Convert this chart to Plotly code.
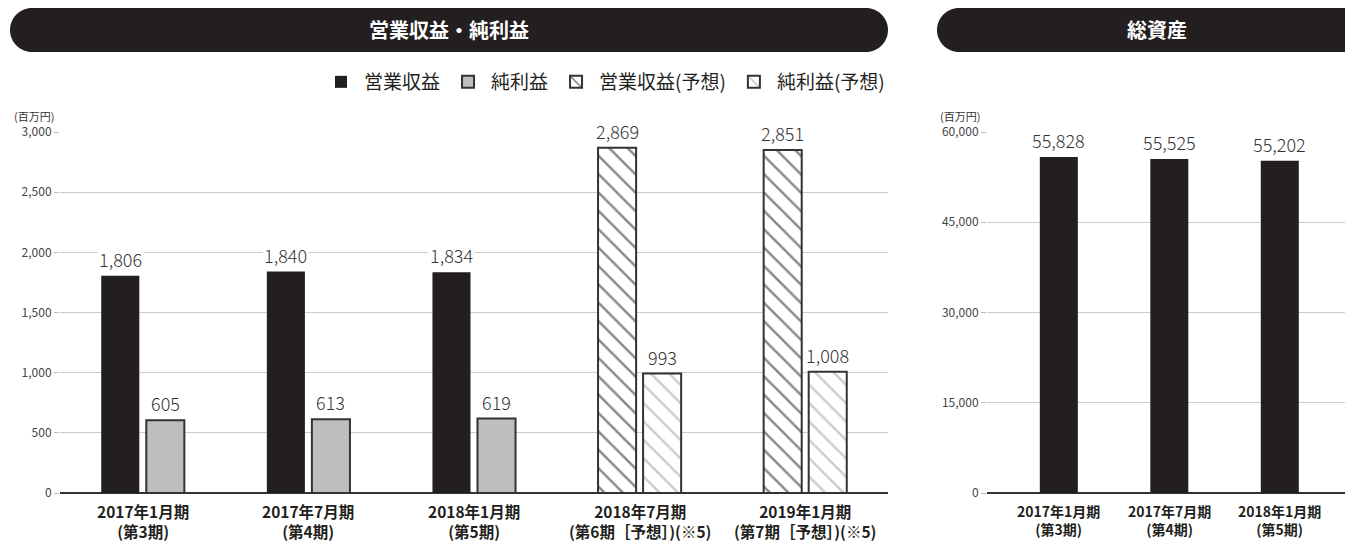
import plotly.graph_objects as go

# ---------------- data ----------------
periods_left = ["2017年1月期", "2017年7月期", "2018年1月期", "2018年7月期", "2019年1月期"]
terms_left = ["(第3期)", "(第4期)", "(第5期)", "(第6期［予想］)(※5)", "(第7期［予想］)(※5)"]
operating_revenue = [1806, 1840, 1834, None, None]
net_income = [605, 613, 619, None, None]
operating_revenue_forecast = [None, None, None, 2869, 2851]
net_income_forecast = [None, None, None, 993, 1008]

periods_right = ["2017年1月期", "2017年7月期", "2018年1月期"]
terms_right = ["(第3期)", "(第4期)", "(第5期)"]
total_assets = [55828, 55525, 55202]

left_ticks = [0, 500, 1000, 1500, 2000, 2500, 3000]
right_ticks = [0, 15000, 30000, 45000, 60000]

# ---------------- layout helpers ----------------
W, H = 1345, 543
def px(x):
    return x / W
def py(y):
    return 1 - y / H

FONT = "Noto Sans CJK JP"
BLACK = "#231f20"
GRAY = "#bdbec0"
EDGE = "#333333"

BARGAP = 0.456
BARGROUPGAP = 0.155
slot = (1 - BARGAP) / 2

fig = go.Figure()

fig.add_bar(name="営業収益", x=periods_left, y=operating_revenue,
            offsetgroup="a", marker=dict(color=BLACK, line=dict(width=0)),
            xaxis="x", yaxis="y", hoverinfo="skip")
fig.add_bar(name="純利益", x=periods_left, y=net_income,
            offsetgroup="b", marker=dict(color=GRAY, line=dict(color=EDGE, width=2)),
            xaxis="x", yaxis="y", hoverinfo="skip")
fig.add_bar(name="営業収益(予想)", x=periods_left, y=operating_revenue_forecast,
            offsetgroup="a",
            marker=dict(color="white", line=dict(color=EDGE, width=2),
                        pattern=dict(shape="\\", fgcolor="#111111", bgcolor="white",
                                     size=13, solidity=0.19)),
            xaxis="x", yaxis="y", hoverinfo="skip")
fig.add_bar(name="純利益(予想)", x=periods_left, y=net_income_forecast,
            offsetgroup="b",
            marker=dict(color="white", line=dict(color=EDGE, width=2),
                        pattern=dict(shape="\\", fgcolor="#999999", bgcolor="white",
                                     size=13, solidity=0.19)),
            xaxis="x", yaxis="y", hoverinfo="skip")

fig.add_bar(name="総資産", x=periods_right, y=total_assets, width=0.344,
            marker=dict(color=BLACK, line=dict(width=0)),
            xaxis="x2", yaxis="y2", showlegend=False, hoverinfo="skip")

annotations = []
# value labels
series = [(operating_revenue, -1), (net_income, 1),
          (operating_revenue_forecast, -1), (net_income_forecast, 1)]
for vals, side in series:
    for i, v in enumerate(vals):
        if v is None:
            continue
        annotations.append(dict(
            x=i + side * slot / 2, y=v, xref="x", yref="y",
            text=f"{v:,}", showarrow=False, yanchor="bottom", yshift=2,
            bgcolor="white", borderpad=1,
            font=dict(family=FONT, size=18, color="#333333", weight=300)))
for i, v in enumerate(total_assets):
    annotations.append(dict(
        x=i, y=v, xref="x2", yref="y2", text=f"{v:,}", showarrow=False,
        yanchor="bottom", yshift=2, bgcolor="white", borderpad=1,
        font=dict(family=FONT, size=18, color="#333333", weight=300)))

# category labels (two lines)
for i, (p, t) in enumerate(zip(periods_left, terms_left)):
    annotations.append(dict(x=i, y=py(498), xref="x", yref="paper", text=f"{p}<br>{t}",
                            showarrow=False, xanchor="center", yanchor="top",
                            font=dict(family=FONT, size=15.5, color=BLACK, weight=700)))
for i, (p, t) in enumerate(zip(periods_right, terms_right)):
    annotations.append(dict(x=i, y=py(499), xref="x2", yref="paper", text=f"{p}<br>{t}",
                            showarrow=False, xanchor="center", yanchor="top",
                            font=dict(family=FONT, size=14, color=BLACK, weight=700)))

# units
annotations.append(dict(x=px(12), y=py(116), xref="paper", yref="paper",
                        text="(百万円)", showarrow=False, xanchor="left", yanchor="middle",
                        font=dict(family=FONT, size=11, color="#333333")))
annotations.append(dict(x=px(938), y=py(116), xref="paper", yref="paper",
                        text="(百万円)", showarrow=False, xanchor="left", yanchor="middle",
                        font=dict(family=FONT, size=11, color="#333333")))
# titles
annotations.append(dict(x=px(449), y=py(30), xref="paper", yref="paper",
                        text="営業収益・純利益", showarrow=False,
                        xanchor="center", yanchor="middle",
                        font=dict(family=FONT, size=20, color="white", weight=700)))
annotations.append(dict(x=px(1157), y=py(30), xref="paper", yref="paper",
                        text="総資産", showarrow=False,
                        xanchor="center", yanchor="middle",
                        font=dict(family=FONT, size=20, color="white", weight=700)))


def pill(x0, x1, y0, y1):
    r = (y1 - y0) / 2
    k = 0.5523 * r
    def P(x, y):
        return f"{px(x):.5f},{py(y):.5f}"
    d = f"M{P(x0 + r, y0)} L{P(x1 - r, y0)} "
    d += f"C{P(x1 - r + k, y0)} {P(x1, y0 + r - k)} {P(x1, y0 + r)} "
    d += f"C{P(x1, y0 + r + k)} {P(x1 - r + k, y1)} {P(x1 - r, y1)} "
    d += f"L{P(x0 + r, y1)} "
    d += f"C{P(x0 + r - k, y1)} {P(x0, y0 + r + k)} {P(x0, y0 + r)} "
    d += f"C{P(x0, y0 + r - k)} {P(x0 + r - k, y0)} {P(x0 + r, y0)} Z"
    return dict(type="path", path=d, xref="paper", yref="paper",
                fillcolor=BLACK, line=dict(width=0), layer="below")

shapes = [pill(10, 888, 8, 52), pill(937, 1375, 8, 52)]

axis_common = dict(showgrid=False, showline=False, ticks="", automargin=False,
                   showticklabels=False)
yaxis_common = dict(showgrid=True, gridcolor="#cccccc", gridwidth=1,
                    zeroline=True, zerolinecolor=EDGE, zerolinewidth=2,
                    ticks="outside", ticklen=5, tickcolor="#bbbbbb",
                    tickformat=",", showline=False, automargin=False,
                    tickfont=dict(family=FONT, size=12, color="#444444"))

fig.update_layout(
    width=W, height=H,
    margin=dict(l=0, r=0, t=0, b=0),
    paper_bgcolor="white", plot_bgcolor="white",
    barmode="group", bargap=BARGAP, bargroupgap=BARGROUPGAP,
    xaxis=dict(domain=[px(60), px(888)], range=[-0.5, 4.5], type="category",
               **axis_common),
    yaxis=dict(domain=[py(493), py(132)], range=[0, 3000], tickvals=left_ticks,
               **yaxis_common),
    xaxis2=dict(domain=[px(987), px(1345)], range=[-0.65, 2.59], type="category",
                anchor="y2", **axis_common),
    yaxis2=dict(domain=[py(493), py(132)], range=[0, 60000], tickvals=right_ticks,
                anchor="x2", **yaxis_common),
    legend=dict(orientation="h", x=px(890), xanchor="right", y=py(82), yanchor="middle",
                font=dict(family=FONT, size=19, color=BLACK),
                itemwidth=36,
                bgcolor="rgba(0,0,0,0)", traceorder="normal", itemclick=False),
    annotations=annotations,
    shapes=shapes,
    showlegend=True,
)

fig.write_html("out.html", config={"displayModeBar": False},
               post_script="document.body.style.margin='0';")
